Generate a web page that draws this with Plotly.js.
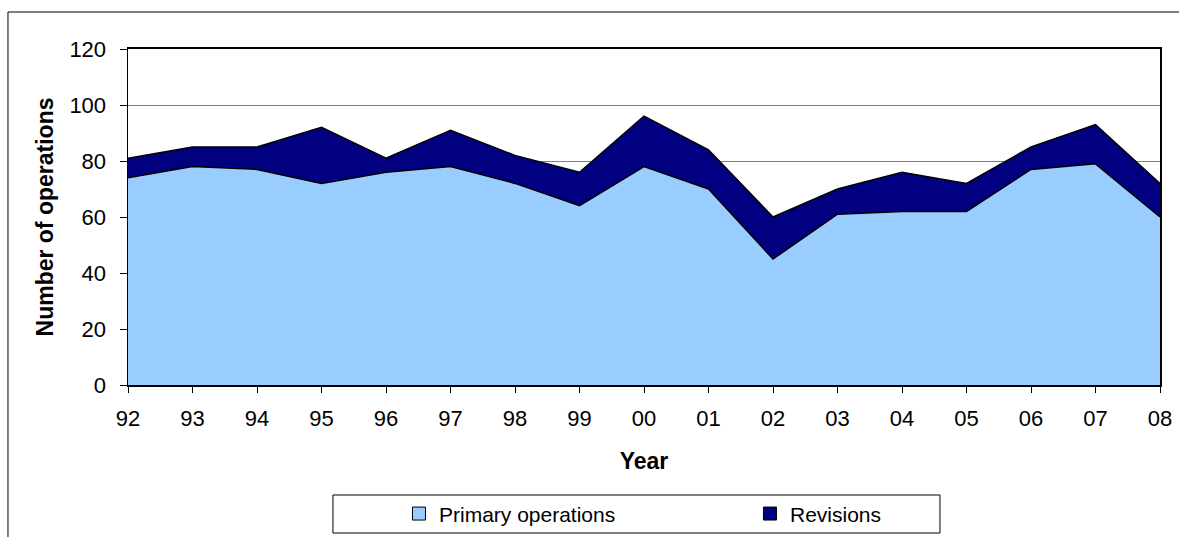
<!DOCTYPE html>
<html>
<head>
<meta charset="utf-8">
<script src="https://cdn.plot.ly/plotly-3.0.1.min.js"></script>
<style>
  html, body { margin: 0; padding: 0; background: #ffffff; overflow: hidden; }
  #chart { width: 1179px; height: 537px; }
</style>
</head>
<body>
<div id="chart"></div>
<script>
// Yearly counts
const years = ['92', '93', '94', '95', '96', '97', '98', '99', '00', '01', '02', '03', '04', '05', '06', '07', '08'];
const primary = [74, 78, 77, 72, 76, 78, 72, 64, 78, 70, 45, 61, 62, 62, 77, 79, 60];
const revisions = [7, 7, 8, 20, 5, 13, 10, 12, 18, 14, 15, 9, 14, 10, 8, 14, 12];

const baseFont = { family: 'Liberation Sans, Arial, sans-serif', size: 22, color: '#000000' };
const titleFont = { family: 'Liberation Sans, Arial, sans-serif', size: 23, color: '#000000', weight: 'bold' };

const areaTrace = (name, y, color) => ({
    x: years,
    y: y,
    name: name,
    type: 'scatter',
    mode: 'lines',
    stackgroup: 'ops',
    fillcolor: color,
    line: { color: '#000000', width: 1.5 },
    showlegend: false,
    hoverinfo: 'x+y+name'
});

// legend only entries, drawn as square swatches like the original
const legendTrace = (name, color) => ({
    x: [null],
    y: [null],
    name: name,
    type: 'scatter',
    mode: 'markers',
    marker: { symbol: 'square', size: 13, color: color, line: { color: '#000000', width: 1 } },
    showlegend: true
});

Plotly.newPlot('chart',
    [
        areaTrace('Primary operations', primary, '#99ccff'),
        areaTrace('Revisions', revisions, '#000080'),
        legendTrace('Primary operations', '#99ccff'),
        legendTrace('Revisions', '#000080')
    ],
    {
        width: 1179,
        height: 537,
        margin: { l: 128, r: 19, t: 49, b: 152, autoexpand: false },
        paper_bgcolor: '#ffffff',
        plot_bgcolor: '#ffffff',
        font: baseFont,
        xaxis: {
            type: 'category',
            range: [0, years.length - 1],
            showgrid: false,
            showline: true,
            linecolor: '#000000',
            linewidth: 2,
            mirror: true,
            ticks: 'outside',
            ticklen: 6,
            tickcolor: '#000000',
            ticklabelstandoff: 7,
            tickfont: baseFont,
            title: { text: 'Year', font: titleFont, standoff: 22 },
            automargin: false,
            fixedrange: true
        },
        yaxis: {
            range: [0, 120],
            dtick: 20,
            showgrid: true,
            gridcolor: '#7f7f7f',
            gridwidth: 1,
            showline: true,
            linecolor: '#000000',
            linewidth: 1.5,
            mirror: true,
            ticks: 'outside',
            ticklen: 7,
            tickcolor: '#000000',
            ticklabelstandoff: 9,
            tickfont: baseFont,
            zeroline: false,
            title: { text: 'Number of operations', font: titleFont, standoff: 9 },
            automargin: false,
            fixedrange: true
        },
        showlegend: true,
        legend: {
            orientation: 'h',
            traceorder: 'normal',
            xref: 'container',
            yref: 'container',
            x: 0.3384,
            xanchor: 'left',
            y: 0.043,
            yanchor: 'middle',
            entrywidth: 306,
            entrywidthmode: 'pixels',
            bgcolor: 'rgba(0,0,0,0)',
            borderwidth: 0,
            font: { family: 'Liberation Sans, Arial, sans-serif', size: 21, color: '#000000' }
        },
        shapes: [
            // outer chart frame, runs off the right and bottom edges
            { type: 'rect', xref: 'paper', yref: 'paper', x0: -0.1163, x1: 1.1, y0: -0.6, y1: 1.1101,
              line: { color: '#000000', width: 1 }, fillcolor: 'rgba(0,0,0,0)', layer: 'below' },
            // legend box
            { type: 'rect', xref: 'paper', yref: 'paper', x0: 0.1986, x1: 0.7868, y0: -0.4405, y1: -0.3274,
              line: { color: '#000000', width: 1 }, fillcolor: 'rgba(0,0,0,0)' }
        ]
    },
    { displayModeBar: false, responsive: false, staticPlot: true }
);
</script>
</body>
</html>
